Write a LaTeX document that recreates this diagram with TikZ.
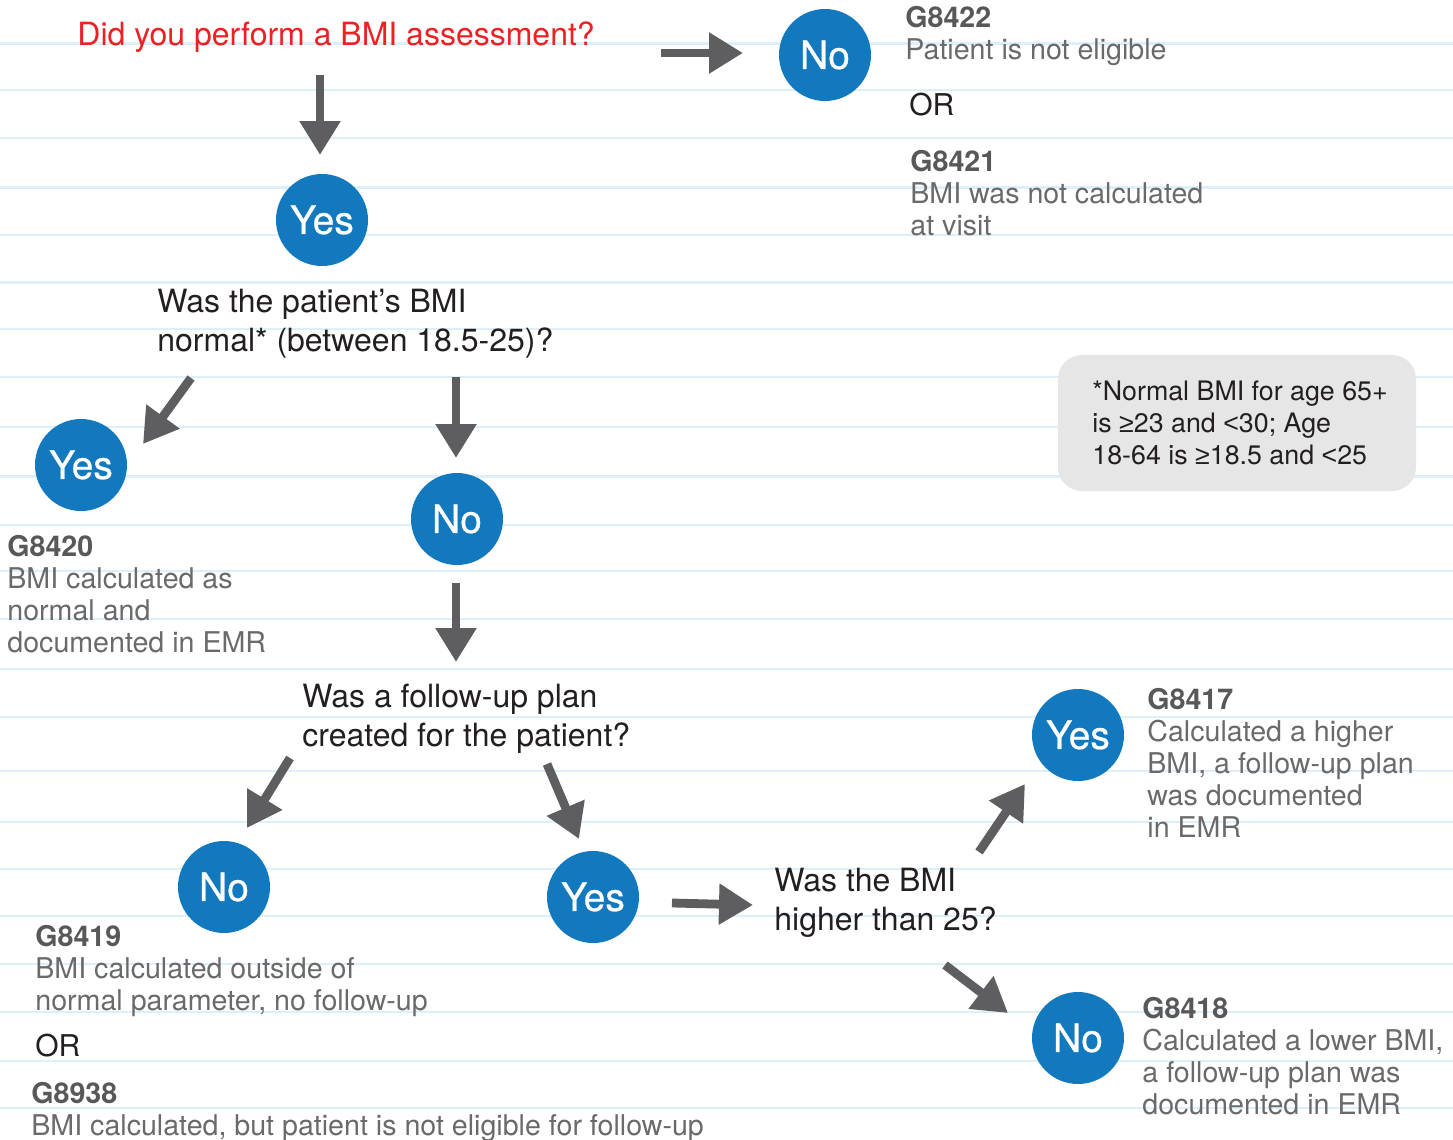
\documentclass[tikz,border=0pt]{standalone}
\usepackage{fontspec}
\setmainfont{TeX Gyre Heros}
\newfontfamily\symfont{Liberation Sans}
\newfontfamily\ansfont[FakeBold=0.6]{TeX Gyre Heros}
\usetikzlibrary{arrows.meta}
\definecolor{bgline}{HTML}{DDEFF9}
\definecolor{ansblue}{HTML}{1279BF}
\definecolor{arrgray}{HTML}{5E5E60}
\definecolor{qred}{HTML}{ED2024}
\definecolor{qblack}{HTML}{231F20}
\definecolor{descgray}{HTML}{6A6A6C}
\definecolor{codegray}{HTML}{58585A}
\definecolor{notegray}{HTML}{E6E6E7}
\newcommand{\codetxt}[1]{{\bfseries\color{codegray}#1}}
\newcommand{\mygeq}{{\symfont ≥}}
\newcommand{\mylt}{{\symfont <}}
\begin{document}
\begin{tikzpicture}[x=0.5pt,y=-0.5pt,
  bgrule/.style={draw=bgline,line width=1.3pt},
  ans/.style={circle,fill=ansblue,minimum size=46pt,inner sep=0pt,text=white,font=\ansfont\fontsize{19.5}{20}\selectfont},
  qtext/.style={anchor=base west,align=left,inner sep=0pt,text=qblack,font=\fontsize{16}{19.5}\selectfont},
  desc/.style={anchor=base west,align=left,inner sep=0pt,text=descgray,font=\fontsize{14.3}{16}\selectfont},
  ortext/.style={anchor=base west,inner sep=0pt,text=qblack,font=\fontsize{15}{16}\selectfont},
  notebox/.style={fill=notegray,rounded corners=12pt,minimum width=179pt,minimum height=68pt,inner sep=0pt},
  notetext/.style={anchor=base west,align=left,inner sep=0pt,text=qblack,font=\fontsize{13.4}{16}\selectfont},
  arr/.style={draw=arrgray,line width=4.4pt,-{Triangle[width=19.5pt,length=17pt]}}
]
\useasboundingbox (0,0) rectangle (1453,1140);
\fill[white] (0,0) rectangle (1453,1140);
% ruled background
\foreach \yy in {43.6,89.8,137.8,187.7,235,282.7,328.9,376.9,426.8,476.7,524.8,571,619,669,717,771,822,869,916,964,1012,1061,1108}
  \draw[bgrule] (0,\yy) -- (1453,\yy);

% note box (text anchored at the baseline of its last line)
\node[notebox] (note) at (1237,423) {};
\node[notetext] (notet) at (1092,464) {*Normal BMI for age 65+\\is \mygeq23 and \mylt30; Age\\18-64 is \mygeq18.5 and \mylt25};

% questions
\node[qtext,text=qred] (q1) at (77,46) {Did you perform a BMI assessment?};
\node[qtext] (q2) at (157,351) {Was the patient’s BMI\\normal* (between 18.5-25)?};
\node[qtext] (q3) at (302,746) {Was a follow-up plan\\created for the patient?};
\node[qtext] (q4) at (774,930) {Was the BMI\\higher than 25?};

% answers
\node[ans] (no1) at (825,55) {No};
\node[ans] (yes1) at (322,220) {Yes};
\node[ans] (yes2) at (81,465) {Yes};
\node[ans] (no2) at (457,519) {No};
\node[ans] (no3) at (224,887) {No};
\node[ans] (yes3) at (593,897) {Yes};
\node[ans] (yes4) at (1078,735) {Yes};
\node[ans] (no4) at (1078,1038) {No};

% outcome texts
\node[desc] (d1) at (905,59) {\codetxt{G8422}\\Patient is not eligible};
\node[ortext] (or1) at (909,115) {OR};
\node[desc] (d2) at (910,235) {\codetxt{G8421}\\BMI was not calculated\\at visit};
\node[desc] (d3) at (7,652) {\codetxt{G8420}\\BMI calculated as\\normal and\\documented in EMR};
\node[desc] (d4) at (1147,837) {\codetxt{G8417}\\Calculated a higher\\BMI, a follow-up plan\\was documented\\in EMR};
\node[desc] (d5) at (1142,1114) {\codetxt{G8418}\\Calculated a lower BMI,\\a follow-up plan was\\documented in EMR};
\node[desc] (d6) at (35,1010) {\codetxt{G8419}\\BMI calculated outside of\\normal parameter, no follow-up};
\node[ortext] (or2) at (35,1056) {OR};
\node[desc] (d7) at (31,1135) {\codetxt{G8938}\\BMI calculated, but patient is not eligible for follow-up};

% arrow end points
\coordinate (a1s) at (661,53);  \coordinate (a1e) at (743,53);
\coordinate (a2s) at (320,75);  \coordinate (a2e) at (320,155);
\coordinate (a3s) at (191,378); \coordinate (a3e) at (143,444);
\coordinate (a4s) at (456,377); \coordinate (a4e) at (456,458);
\coordinate (a5s) at (456,583); \coordinate (a5e) at (456,662);
\coordinate (a6s) at (290,758); \coordinate (a6e) at (247,828);
\coordinate (a7s) at (547,764); \coordinate (a7e) at (579,839);
\coordinate (a8s) at (672,903); \coordinate (a8e) at (753,905);
\coordinate (a9s) at (979,852); \coordinate (a9e) at (1025,784);
\coordinate (a10s) at (945,965); \coordinate (a10e) at (1008,1013);

\draw[arr] (a1s) -- (a1e);
\draw[arr] (a2s) -- (a2e);
\draw[arr] (a3s) -- (a3e);
\draw[arr] (a4s) -- (a4e);
\draw[arr] (a5s) -- (a5e);
\draw[arr] (a6s) -- (a6e);
\draw[arr] (a7s) -- (a7e);
\draw[arr] (a8s) -- (a8e);
\draw[arr] (a9s) -- (a9e);
\draw[arr] (a10s) -- (a10e);
\end{tikzpicture}
\end{document}
